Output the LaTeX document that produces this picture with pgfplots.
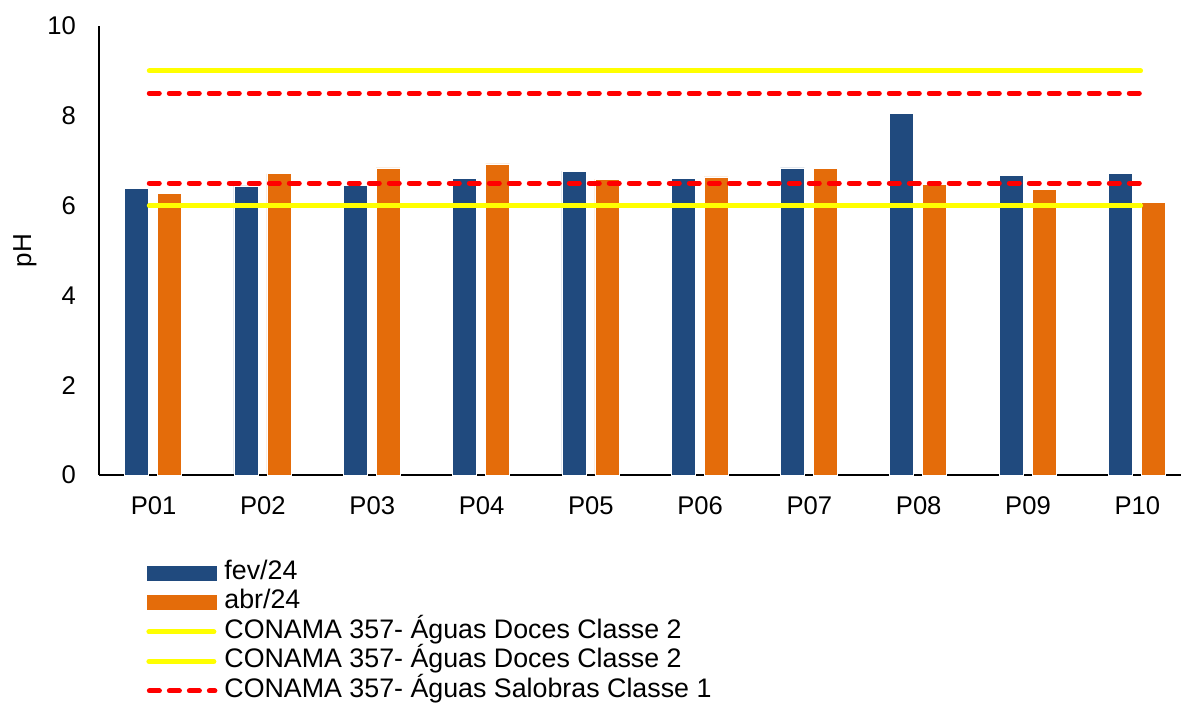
\documentclass[border=0pt]{standalone}
\usepackage{pgfplots}
\pgfplotsset{compat=1.18}
\usepackage{fontspec}
\setmainfont{Liberation Sans}
\definecolor{fevc}{RGB}{32,74,126}
\definecolor{abrc}{RGB}{228,108,10}
\definecolor{yel}{RGB}{255,255,0}
\definecolor{redd}{RGB}{255,0,0}
\begin{document}
\begin{tikzpicture}
\begin{axis}[name=ax,
  scale only axis, width=541pt, height=224.5pt,
  xmin=-0.5, xmax=9.4, ymin=0, ymax=10,
  axis x line*=bottom, axis y line*=left,
  axis line style={black, line width=0.6pt},
  xtick={0,...,9},
  xticklabels={P01,P02,P03,P04,P05,P06,P07,P08,P09,P10},
  ytick={0,2,4,6,8,10},
  major tick length=0pt,
  tick label style={font=\fontsize{12.8}{14}\selectfont},
  /pgf/number format/assume math mode=true,
  xticklabel style={yshift=-7.5pt},
  yticklabel style={xshift=-8pt},
  ylabel={pH},
  every axis y label/.style={at={([xshift=-37pt]axis description cs:0,0.5)}, rotate=90, anchor=center, font=\fontsize{13}{14}\selectfont},
  legend style={at={(axis description cs:0,0)}, anchor=north west, xshift=23.5pt, yshift=-42pt,
    draw=none, fill=none, inner sep=0pt, row sep=1.25pt,
    font=\fontsize{13.4}{15}\selectfont,
    nodes={inner sep=1pt, text height=9pt, text depth=2.5pt},
    /tikz/every odd column/.append style={column sep=2.5pt}},
  legend cell align=left,
]
\addplot[ybar, bar width=12pt, bar shift=-8.5pt, fill=fevc, draw=white, line width=0.3pt,
  legend image code/.code={\fill[fevc] (0pt,-3.5pt) rectangle (34.5pt,3.5pt);}]
  coordinates {(0,6.39) (1,6.44) (2,6.45) (3,6.61) (4,6.77) (5,6.61) (6,6.84) (7,8.05) (8,6.67) (9,6.71)};
\addlegendentry{fev/24}
\addplot[ybar, bar width=12pt, bar shift=8pt, fill=abrc, draw=white, line width=0.3pt,
  legend image code/.code={\fill[abrc] (0pt,-3.5pt) rectangle (34.5pt,3.5pt);}]
  coordinates {(0,6.27) (1,6.71) (2,6.84) (3,6.93) (4,6.59) (5,6.64) (6,6.83) (7,6.48) (8,6.36) (9,6.07)};
\addlegendentry{abr/24}
\addplot[yel, line width=2.5pt, line cap=round,
  legend image code/.code={\draw[yel, line width=2.5pt, line cap=round] (1pt,0pt) -- (33.5pt,0pt);}]
  coordinates {(-0.04,9) (9.03,9)};
\addlegendentry{CONAMA 357- Águas Doces Classe 2}
\addplot[yel, line width=2.5pt, line cap=round,
  legend image code/.code={\draw[yel, line width=2.5pt, line cap=round] (1pt,0pt) -- (33.5pt,0pt);}]
  coordinates {(-0.04,6) (9.03,6)};
\addlegendentry{CONAMA 357- Águas Doces Classe 2}
\addplot[redd, line width=2.5pt, line cap=round, dash pattern=on 5pt off 5pt,
  legend image code/.code={\draw[redd, line width=2.5pt, line cap=round, dash pattern=on 5pt off 5pt] (1.25pt,0pt) -- (34pt,0pt);}]
  coordinates {(-0.04,8.5) (9.03,8.5)};
\addlegendentry{CONAMA 357- Águas Salobras Classe 1}
\addplot[redd, line width=2.5pt, line cap=round, dash pattern=on 5pt off 5pt, forget plot]
  coordinates {(-0.04,6.5) (9.03,6.5)};
\end{axis}
\pgfresetboundingbox
\path[use as bounding box] ([xshift=-49.5pt,yshift=-113.5pt]ax.south west) rectangle ([yshift=13pt]ax.north east);
\end{tikzpicture}
\end{document}
